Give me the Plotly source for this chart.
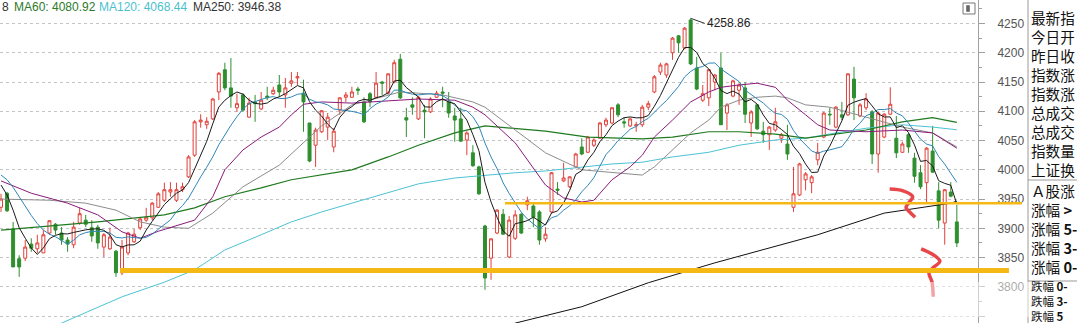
import plotly.graph_objects as go
import pandas as pd

# ---------------- data ----------------
idx = list(range(159))
opens = [3936,3960,3899,3848,3849,3873,3865,3858,3892,3907,3892,3880,3872,3909,3914,3901,3902,3868,3865,3861,
         3824,3858,3877,3901,3914,3918,3936,3948,3962,3948,3966,3988,4025,4082,4077,4087,4133,4171,4140,4106,
         4128,4090,4116,4104,4126,4130,4145,4128,4148,4157,4131,4080,4042,4065,4073,4039,4102,4124,4124,4138,
         4116,4130,4124,4150,4131,4150,4189,4089,4111,4087,4102,4099,4124,4133,4116,4092,4087,4051,4029,4005,
         3904,3849,3892,3924,3851,3883,3924,3940,3938,3928,3882,3928,3967,3981,3971,4005,4039,4030,4042,4054,
         4077,4080,4111,4082,4075,4075,4077,4107,4133,4167,4162,4200,4229,4208,4256,4174,4119,4123,4150,4174,
         4097,4126,4136,4140,4080,4111,4066,4060,4068,4054,4044,3936,3957,3983,3978,4017,4056,4095,4073,4094,
         4094,4155,4092,4106,4099,4027,4056,4095,4054,4030,4060,4020,3995,3978,4032,3964,3909,3962,3911]
highs = [3959,3962,3911,3854,3880,3883,3889,3897,3914,3909,3902,3885,3911,3935,3923,3914,3906,3892,3901,3863,
         3880,3894,3899,3919,3935,3945,3962,3978,3979,3978,3978,4025,4085,4095,4090,4123,4167,4183,4191,4130,
         4131,4123,4128,4133,4142,4142,4162,4157,4167,4167,4154,4080,4072,4102,4097,4071,4124,4133,4142,4142,
         4124,4133,4167,4152,4165,4188,4198,4106,4124,4126,4111,4124,4135,4142,4133,4106,4106,4066,4042,4007,
         3906,3883,3933,3933,3921,3931,3926,3954,3943,3931,3902,3996,3979,4012,3989,4029,4054,4058,4054,4082,
         4089,4107,4114,4090,4089,4082,4111,4118,4162,4183,4183,4227,4230,4244,4258.86,4193,4145,4172,4164,4200,
         4114,4154,4148,4150,4102,4112,4082,4075,4106,4063,4077,4005,4012,3996,3991,4046,4099,4106,4109,4116,
         4165,4176,4114,4131,4102,4099,4097,4141,4092,4048,4063,4029,4008,4039,4075,3979,3967,3979,3940]
lows = [3928,3928,3834,3817,3844,3860,3858,3858,3889,3889,3872,3860,3866,3906,3902,3877,3865,3851,3863,3817,
        3820,3854,3875,3897,3911,3914,3935,3945,3954,3945,3962,3986,4022,4072,4070,4085,4119,4136,4106,4099,
        4099,4089,4082,4102,4119,4128,4124,4106,4142,4145,4065,4013,4005,4063,4051,4030,4094,4116,4123,4128,
        4080,4107,4123,4128,4128,4148,4121,4056,4094,4085,4054,4097,4123,4107,4089,4048,4048,4025,4005,3957,
        3795,3812,3890,3889,3849,3880,3890,3931,3902,3872,3877,3926,3957,3979,3969,4003,4025,4029,4039,4053,
        4073,4078,4090,4072,4073,4065,4073,4102,4131,4162,4157,4188,4200,4206,4179,4136,4116,4109,4136,4077,
        4068,4124,4111,4080,4056,4068,4046,4034,4065,4046,4017,3928,3955,3965,3960,4008,4054,4077,4071,4085,
        4092,4085,4090,4102,4010,3995,4054,4094,4020,4029,4029,3978,3967,3943,3995,3900,3872,3953,3868]
closes = [3950,3930,3834,3834,3868,3866,3875,3889,3913,3897,3880,3873,3902,3925,3907,3887,3875,3889,3885,3824,
          3868,3892,3890,3916,3919,3943,3959,3966,3966,3966,3971,4022,4082,4085,4083,4121,4165,4140,4126,4113,
          4102,4114,4113,4119,4123,4136,4133,4140,4152,4159,4116,4015,4068,4101,4090,4066,4123,4128,4133,4136,
          4082,4116,4148,4148,4164,4183,4123,4085,4107,4124,4099,4121,4131,4131,4097,4085,4049,4063,4007,3959,
          3815,3882,3931,3890,3914,3923,3892,3947,3919,3880,3890,3995,3965,3986,3988,4027,4027,4056,4051,4080,
          4085,4106,4094,4080,4087,4077,4107,4113,4159,4179,4181,4225,4217,4242,4181,4138,4130,4171,4162,4077,
          4111,4152,4145,4095,4099,4070,4060,4073,4082,4060,4027,3959,4010,3993,3988,4030,4097,4094,4107,4090,
          4164,4123,4111,4121,4027,4097,4095,4112,4029,4044,4039,3989,3971,4037,3996,3914,3966,3955,3875]

# first values of the short averages (before enough closes are shown)
ma5_head = [3974, 3957, 3931, 3901]
ma10_head = [3991, 3983, 3970, 3955, 3938, 3922, 3908, 3897, 3890]

# longer moving-average lines (candle index, value)
ma20_x = [0,5,11,16,20,23,26,32,35,37,40,43,46,48,50,53,58,64,69,75,78,80,85,90,93,96,98,101,104,106,
          108,111,114,117,119,122,125,128,130,133,135,137,143,149,154,158]
ma20_y = [3981,3960,3943,3923,3894,3883,3895,3914,3954,4000,4034,4056,4073,4094,4112,4116,4114,4118,4121,4119,
          4107,4094,4046,3974,3952,3945,3948,3983,4005,4025,4056,4085,4116,4133,4141,4145,4148,4141,4119,4094,
          4077,4068,4065,4068,4063,4037]
ma30_x = [0,8,14,19,23,27,31,35,40,46,51,53,58,61,66,69,73,78,80,85,90,96,101,106,108,111,114,117,119,122,
          125,128,130,133,137,143,149,154,158]
ma30_y = [3950,3948,3943,3931,3911,3902,3900,3926,3971,4008,4056,4075,4111,4119,4133,4131,4128,4116,4107,4068,
          4029,4000,3995,3991,4005,4034,4063,4085,4107,4119,4124,4126,4123,4111,4107,4090,4073,4063,4039]
ma60_x = [0,16,27,32,37,43,48,53,58,64,69,75,80,90,97,106,111,117,122,128,133,143,149,154,158]
ma60_y = [3897,3911,3923,3935,3954,3969,3983,3991,4000,4022,4042,4063,4075,4066,4056,4053,4056,4065,4065,4061,
          4054,4068,4082,4089,4080.92]
ma120_x = [0,10,20,27,32,37,43,48,53,58,64,69,75,80,85,90,96,101,106,111,117,122,128,133,138,143,149,154,158]
ma120_y = [3697,3738,3783,3808,3829,3863,3889,3911,3928,3943,3960,3976,3986,3991,3995,3998,4005,4010,4013,4022,
           4030,4042,4051,4054,4063,4071,4077,4073,4068.44]
ma250_x = [78,85,96,107,118,124,135,146,157,158]
ma250_y = [3709,3738,3766,3807,3841,3858,3889,3926,3943,3946.38]

# support lines and hand-drawn marks
support_hi = 3943
support_lo = 3828
squig1_x = [146.9,149.1,150.7,150.0,149.6,150.2,151.1]
squig1_y = [3967,3964,3954,3943,3935,3928,3919]
squig2_x = [152.1,153.9,155.2,154.0,153.4,153.9,154.1]
squig2_y = [3865,3856,3844,3832,3824,3808,3783]

legend_items = [("8", "#333333"), ("MA60: 4080.92", "#2b7a2b"),
                ("MA120: 4068.44", "#4cbfcf"), ("MA250: 3946.38", "#333333")]
panel_top = ["最新指", "今日开", "昨日收", "指数涨", "指数涨", "总成交", "总成交", "指数量", "上证换"]
panel_mid = ["Ａ股涨", "涨幅 <b>&gt;</b>", "涨幅 <b>5-</b>", "涨幅 <b>3-</b>", "涨幅 <b>0-</b>"]
panel_bot = ["跌幅 <b>0-</b>", "跌幅 <b>3-</b>", "跌幅 <b>5</b>"]
peak_label = "4258.86"

# ---------------- figure ----------------
W, H = 1077, 323
PW = 978  # plot width in px
def X(px): return px / PW
def Y(py): return 1 - py / H

s = pd.Series(closes)
ma5 = ma5_head + s.rolling(5).mean().tolist()[len(ma5_head):]
ma10 = ma10_head + s.rolling(10).mean().tolist()[len(ma10_head):]

fig = go.Figure()
fig.add_trace(go.Candlestick(
    x=idx, open=opens, high=highs, low=lows, close=closes,
    increasing=dict(line=dict(color="#e0403a", width=1), fillcolor="white"),
    decreasing=dict(line=dict(color="#2f8f2f", width=1), fillcolor="#2f8f2f"),
    whiskerwidth=0, hoverinfo="skip", showlegend=False))

def add_line(x, y, color, width=1):
    fig.add_trace(go.Scatter(x=x, y=y, mode="lines", line=dict(color=color, width=width),
                             hoverinfo="skip", showlegend=False))

add_line(ma120_x, ma120_y, "#4cc3d3")
add_line(ma60_x, ma60_y, "#1f7a1f", 1.2)
add_line(ma30_x, ma30_y, "#8c8c8c")
add_line(ma20_x, ma20_y, "#8a1a7a")
add_line(idx, ma10, "#2f86b8")
add_line(idx, ma5, "#1a1a1a")
add_line(ma250_x, ma250_y, "#111111")

shapes = [
    dict(type="line", xref="paper", yref="y", x0=X(505), x1=X(1022), y0=support_hi, y1=support_hi,
         line=dict(color="#f5b915", width=2.5)),
    dict(type="line", xref="paper", yref="y", x0=X(120), x1=X(1009), y0=support_lo, y1=support_lo,
         line=dict(color="#f5b915", width=5)),
    # right panel frame
    dict(type="line", xref="paper", yref="paper", x0=X(1028), x1=X(1028), y0=0, y1=1,
         line=dict(color="#9a9a9a", width=1)),
    dict(type="line", xref="paper", yref="paper", x0=X(1028), x1=X(1080), y0=Y(180), y1=Y(180),
         line=dict(color="#9a9a9a", width=1)),
    dict(type="line", xref="paper", yref="paper", x0=X(1028), x1=X(1080), y0=Y(281), y1=Y(281),
         line=dict(color="#9a9a9a", width=1)),
    # small icon top right
    dict(type="rect", xref="paper", yref="paper", x0=X(963), x1=X(975), y0=Y(14), y1=Y(3),
         line=dict(color="#777", width=1), fillcolor="white"),
    dict(type="rect", xref="paper", yref="paper", x0=X(966.5), x1=X(969.5), y0=Y(11.5), y1=Y(5.5),
         line=dict(color="#555", width=0.5), fillcolor="#666"),
    # blurred watermark area
    dict(type="rect", xref="paper", yref="paper", x0=X(785), x1=X(1050), y0=Y(317), y1=Y(282),
         line=dict(width=0), fillcolor="rgba(255,255,255,0.5)", layer="above"),
]

# hand-drawn red marks (on top of the watermark veil)
for sx, sy in ((squig1_x, squig1_y), (squig2_x, squig2_y)):
    fig.add_trace(go.Scatter(x=sx, y=sy, mode="lines",
                             line=dict(color="#e8474a", width=3.5, shape="spline"),
                             hoverinfo="skip", showlegend=False))

ann = []
xs = [0, 12, 97, 191]
for (t, c), xp in zip(legend_items, xs):
    ann.append(dict(xref="paper", yref="paper", x=X(xp), y=Y(7), text=t, showarrow=False,
                    xanchor="left", yanchor="middle", font=dict(size=12, color=c)))
ann.append(dict(x=114, y=highs[114], xref="x", yref="y", text=peak_label, showarrow=True,
                arrowhead=0, arrowwidth=1, arrowcolor="#333", ax=14, ay=5, xanchor="left",
                font=dict(size=12, color="#222")))
cjk = "Noto Sans CJK SC"
ann.append(dict(xref="paper", yref="paper", x=X(1030), y=Y(93), text="<br>".join(panel_top),
                showarrow=False, xanchor="left", yanchor="middle", align="left", borderpad=0,
                font=dict(size=14.6, color="#111", family=cjk)))
ann.append(dict(xref="paper", yref="paper", x=X(1030), y=Y(228), text="<br>".join(panel_mid),
                showarrow=False, xanchor="left", yanchor="middle", align="left", borderpad=0,
                font=dict(size=14.6, color="#111", family=cjk)))
ann.append(dict(xref="paper", yref="paper", x=X(1030), y=Y(301), text="<br>".join(panel_bot),
                showarrow=False, xanchor="left", yanchor="middle", align="left", borderpad=0,
                font=dict(size=11.5, color="#111", family=cjk)))

fig.update_layout(
    width=W, height=H, margin=dict(l=0, r=W - PW, t=0, b=0),
    paper_bgcolor="white", plot_bgcolor="white",
    font=dict(family="Liberation Sans, Arial, sans-serif", size=12, color="#555"),
    showlegend=False, boxgap=0.3,
    xaxis=dict(range=[-0.17, 161.5], visible=False, rangeslider=dict(visible=False), fixedrange=True),
    yaxis=dict(side="right", range=[3738.2, 4290.2], tick0=3750, dtick=50,
               showgrid=True, gridcolor="#c4c4c4", griddash="dot", gridwidth=1,
               showline=True, linecolor="#a0a0a0", linewidth=1, zeroline=False,
               ticks="outside", ticklen=6, tickcolor="#a0a0a0", ticklabelstandoff=10,
               tickfont=dict(size=12, color="#555"),
               minor=dict(dtick=25, ticks="outside", ticklen=3, tickcolor="#a0a0a0", showgrid=False)),
    shapes=shapes, annotations=ann,
)
fig.write_html("out.html")
